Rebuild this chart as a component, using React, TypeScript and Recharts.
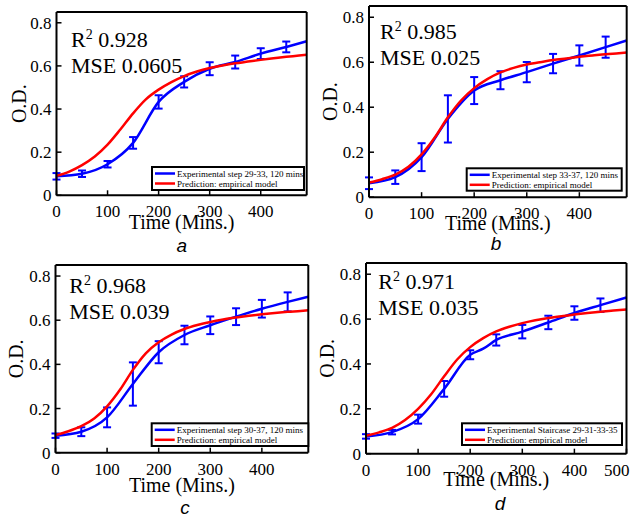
import React from "react";
import { LineChart, Line, XAxis, YAxis, ErrorBar } from "recharts";

// measurement times (mins) and model grid
const T_MEAS = [0, 50, 100, 150, 200, 250, 300, 350, 400, 450];
const T_MODEL_490 = [0, 25, 50, 75, 100, 125, 150, 175, 200, 225, 250, 275, 300, 325, 350, 375, 400, 425, 450, 475, 490];
const T_MODEL_500 = [0, 25, 50, 75, 100, 125, 150, 175, 200, 225, 250, 275, 300, 325, 350, 375, 400, 425, 450, 475, 500];
const X_TICKS_A = [0, 100, 200, 300, 400];
const X_TICKS_D = [0, 100, 200, 300, 400, 500];
const Y_TICKS = [0, 0.2, 0.4, 0.6, 0.8];

// panel a: step 29-33
const A_OD = [0.088, 0.1, 0.144, 0.243, 0.433, 0.526, 0.587, 0.618, 0.657, 0.688];
const A_ERR = [0.015, 0.015, 0.015, 0.027, 0.031, 0.026, 0.03, 0.03, 0.025, 0.025];
const A_EXTRA = [{ t: 490, od: 0.714 }];
const A_PRED = [0.09, 0.11, 0.14, 0.18, 0.235, 0.305, 0.38, 0.445, 0.49, 0.525, 0.553, 0.574, 0.59, 0.602, 0.612, 0.62, 0.628, 0.635, 0.642, 0.648, 0.652];

// panel b: step 33-37
const B_OD = [0.062, 0.089, 0.178, 0.348, 0.474, 0.52, 0.556, 0.594, 0.63, 0.667];
const B_ERR = [0.026, 0.03, 0.062, 0.105, 0.06, 0.04, 0.045, 0.043, 0.045, 0.047];
const B_EXTRA = [{ t: 490, od: 0.697 }];
const B_PRED = [0.065, 0.08, 0.1, 0.135, 0.19, 0.265, 0.355, 0.43, 0.485, 0.525, 0.555, 0.575, 0.59, 0.6, 0.61, 0.617, 0.624, 0.63, 0.636, 0.64, 0.643];

// panel c: step 30-37
const C_OD = [0.077, 0.095, 0.16, 0.311, 0.455, 0.533, 0.577, 0.616, 0.652, 0.683];
const C_ERR = [0.01, 0.02, 0.045, 0.098, 0.05, 0.042, 0.04, 0.038, 0.04, 0.043];
const C_EXTRA = [{ t: 490, od: 0.706 }];
const C_PRED = [0.08, 0.097, 0.12, 0.155, 0.21, 0.285, 0.375, 0.45, 0.5, 0.535, 0.56, 0.578, 0.592, 0.603, 0.612, 0.62, 0.627, 0.633, 0.638, 0.642, 0.645];

// panel d: staircase 29-31-33-35
const D_OD = [0.077, 0.096, 0.154, 0.289, 0.441, 0.507, 0.544, 0.585, 0.627, 0.662];
const D_ERR = [0.01, 0.01, 0.02, 0.035, 0.02, 0.025, 0.03, 0.03, 0.03, 0.03];
const D_EXTRA = [{ t: 225, od: 0.468 }, { t: 500, od: 0.696 }];
const D_PRED = [0.08, 0.095, 0.115, 0.15, 0.2, 0.265, 0.345, 0.42, 0.475, 0.515, 0.545, 0.566, 0.582, 0.595, 0.605, 0.613, 0.62, 0.627, 0.633, 0.638, 0.643];

const BLUE = "#0000ff";
const RED = "#ff0000";
const SERIF = "Liberation Serif, DejaVu Serif, serif";
const TICK = { fill: "#000", fontSize: 17, style: { fontFamily: SERIF } };
const AXLAB = { fill: "#000", fontSize: 20, fontFamily: SERIF };

const meas = (od: number[], err: number[]) => T_MEAS.map((t, i) => ({ t, od: od[i], err: err[i] }));
const curve = (ts: number[], od: number[]) => ts.map((t, i) => ({ t, od: od[i] }));

// box = plot frame in page pixels; cl = left edge of the chart svg
const PANELS = [
  {
    id: "a", cl: 0, L: 56.5, R: 306.7, T: 11.7, B: 195, xMax: 490, xTicks: X_TICKS_A, labDy: 33.3, odX: 19,
    meas: meas(A_OD, A_ERR), extra: A_EXTRA, pred: curve(T_MODEL_490, A_PRED),
    r2: "0.928", mse: "0.0605", txtX: 71, txtY: 46.7,
    legend: "Experimental step 29-33, 120 mins", lg: [152, 167, 304, 190], sub: [181.7, 251.5],
  },
  {
    id: "b", cl: 312, L: 369, R: 626.7, T: 5.5, B: 196.7, xMax: 490, xTicks: X_TICKS_A, labDy: 33.3, odX: 18,
    meas: meas(B_OD, B_ERR), extra: B_EXTRA, pred: curve(T_MODEL_490, B_PRED),
    r2: "0.985", mse: "0.025", txtX: 380, txtY: 39,
    legend: "Experimental step 33-37, 120 mins", lg: [466.7, 168.3, 621.7, 190.7], sub: [496, 250],
  },
  {
    id: "c", cl: 0, L: 55.5, R: 308.3, T: 265, B: 452.7, xMax: 490, xTicks: X_TICKS_A, labDy: 39, odX: 16,
    meas: meas(C_OD, C_ERR), extra: C_EXTRA, pred: curve(T_MODEL_490, C_PRED),
    r2: "0.968", mse: "0.039", txtX: 69.3, txtY: 293.3,
    legend: "Experimental step 30-37, 120 mins", lg: [151.7, 423.3, 308.3, 446], sub: [185, 514],
  },
  {
    id: "d", cl: 312, L: 366, R: 626.5, T: 263.3, B: 454, xMax: 500, xTicks: X_TICKS_D, labDy: 32.7, odX: 15,
    meas: meas(D_OD, D_ERR), extra: D_EXTRA, pred: curve(T_MODEL_500, D_PRED),
    r2: "0.971", mse: "0.035", txtX: 378.3, txtY: 289.3,
    legend: "Experimental Staircase 29-31-33-35", lg: [462, 423.3, 622, 445], sub: [500, 510],
  },
];

const XH = 44;

function Panel({ p }: { p: (typeof PANELS)[number] }) {
  const top = p.T - 3;
  const yW = p.L - p.cl;
  const width = p.R - p.cl + 3;
  const height = p.B - top + XH;
  const blueLine = [...p.meas.map((m) => ({ t: m.t, od: m.od })), ...p.extra].sort((a, b) => a.t - b.t);
  const ax = { stroke: "#000", strokeWidth: 2 };
  const tl = { stroke: "#000", strokeWidth: 1.5 };
  return (
    <div style={{ position: "absolute", left: p.cl, top, fontFamily: SERIF }}>
      <LineChart width={width} height={height} margin={{ top: 2, right: 2, bottom: 0, left: 0 }} style={{ fontFamily: SERIF }}>
        <XAxis xAxisId="b" dataKey="t" type="number" domain={[0, p.xMax]} ticks={p.xTicks} height={XH}
          tickSize={-5} tickMargin={15} axisLine={ax} tickLine={tl} tick={TICK} allowDataOverflow
          label={{ value: "Time (Mins.)", position: "insideBottom", offset: XH - p.labDy, style: AXLAB }} />
        <XAxis xAxisId="t" dataKey="t" orientation="top" type="number" domain={[0, p.xMax]} ticks={p.xTicks}
          height={1} tickSize={-5} axisLine={ax} tickLine={tl} tick={false} allowDataOverflow />
        <YAxis yAxisId="l" type="number" domain={[0, 0.85]} ticks={Y_TICKS} width={yW}
          tickSize={-5} tickMargin={10} axisLine={ax} tickLine={tl} tick={TICK} allowDataOverflow
          label={{ value: "O.D.", angle: -90, position: "insideLeft", offset: p.odX, style: { ...AXLAB, textAnchor: "middle" } }} />
        <YAxis yAxisId="r" orientation="right" type="number" domain={[0, 0.85]} ticks={Y_TICKS} width={1}
          tickSize={-5} axisLine={ax} tickLine={tl} tick={false} allowDataOverflow />
        <Line xAxisId="b" yAxisId="l" data={blueLine} dataKey="od" type="monotone" stroke={BLUE}
          strokeWidth={2.5} dot={false} isAnimationActive={false} />
        <Line xAxisId="b" yAxisId="l" data={p.meas} dataKey="od" stroke="none" dot={false} isAnimationActive={false}>
          <ErrorBar dataKey="err" width={4} stroke={BLUE} strokeWidth={2} direction="y" isAnimationActive={false} />
        </Line>
        <Line xAxisId="b" yAxisId="l" data={p.pred} dataKey="od" type="monotone" stroke={RED}
          strokeWidth={2.5} dot={false} isAnimationActive={false} />
      </LineChart>
    </div>
  );
}

function Notes() {
  const serif = { fontFamily: SERIF };
  return (
    <svg width={640} height={520} style={{ position: "absolute", left: 0, top: 0, pointerEvents: "none" }}>
      {PANELS.map((p) => {
        const [x1, y1, x2, y2] = p.lg;
        return (
          <g key={p.id}>
            <text x={p.txtX} y={p.txtY} style={serif} fontSize={22} fill="#000">
              R<tspan fontSize={14} dy={-8}>2</tspan>
              <tspan dy={8}> {p.r2}</tspan>
            </text>
            <text x={p.txtX} y={p.txtY + 26} style={serif} fontSize={22} fill="#000">MSE {p.mse}</text>
            <rect x={x1} y={y1} width={x2 - x1} height={y2 - y1} fill="#fff" stroke="#000" strokeWidth={2} />
            <line x1={x1 + 3} x2={x1 + 23} y1={y1 + 6.5} y2={y1 + 6.5} stroke={BLUE} strokeWidth={2.5} />
            <line x1={x1 + 3} x2={x1 + 23} y1={y1 + 16.5} y2={y1 + 16.5} stroke={RED} strokeWidth={2.5} />
            <text x={x1 + 25} y={y1 + 9.5} style={serif} fontSize={9} fill="#000">{p.legend}</text>
            <text x={x1 + 25} y={y1 + 19.5} style={serif} fontSize={9} fill="#000">Prediction: empirical model</text>
            <text x={p.sub[0]} y={p.sub[1]} textAnchor="middle" style={{ fontFamily: "Liberation Sans, Arial, sans-serif" }}
              fontStyle="italic" fontSize={19} fill="#000">{p.id}</text>
          </g>
        );
      })}
    </svg>
  );
}

export default function App() {
  return (
    <div style={{ position: "absolute", left: 0, top: 0, width: 640, height: 520, background: "#fff", overflow: "hidden" }}>
      {PANELS.map((p) => (
        <Panel key={p.id} p={p} />
      ))}
      <Notes />
    </div>
  );
}
